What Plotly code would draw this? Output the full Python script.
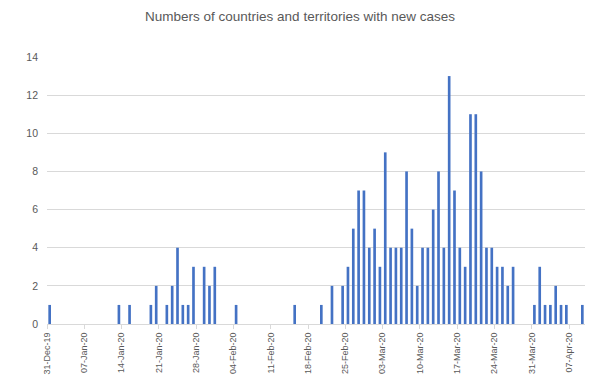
import plotly.graph_objects as go

title = "Numbers of countries and territories with new cases"

dates = [
    "2019-12-31", "2020-01-13", "2020-01-15", "2020-01-19", "2020-01-20",
    "2020-01-22", "2020-01-23", "2020-01-24", "2020-01-25", "2020-01-26",
    "2020-01-27", "2020-01-29", "2020-01-30", "2020-01-31", "2020-02-04",
    "2020-02-15", "2020-02-20", "2020-02-22", "2020-02-24", "2020-02-25",
    "2020-02-26", "2020-02-27", "2020-02-28", "2020-02-29", "2020-03-01",
    "2020-03-02", "2020-03-03", "2020-03-04", "2020-03-05", "2020-03-06",
    "2020-03-07", "2020-03-08", "2020-03-09", "2020-03-10", "2020-03-11",
    "2020-03-12", "2020-03-13", "2020-03-14", "2020-03-15", "2020-03-16",
    "2020-03-17", "2020-03-18", "2020-03-19", "2020-03-20", "2020-03-21",
    "2020-03-22", "2020-03-23", "2020-03-24", "2020-03-25", "2020-03-26",
    "2020-03-27", "2020-03-31", "2020-04-01", "2020-04-02", "2020-04-03",
    "2020-04-04", "2020-04-05", "2020-04-06", "2020-04-09",
]
counts = [
    1, 1, 1, 1, 2,
    1, 2, 4, 1, 1,
    3, 3, 2, 3, 1,
    1, 1, 2, 2, 3,
    5, 7, 7, 4, 5,
    3, 9, 4, 4, 4,
    8, 5, 2, 4, 4,
    6, 8, 4, 13, 7,
    4, 3, 11, 11, 8,
    4, 4, 3, 3, 2,
    3, 1, 3, 1, 1,
    2, 1, 1, 1,
]

x_start = "2019-12-31"
x_end = "2020-04-10"
y_ticks = [0, 2, 4, 6, 8, 10, 12, 14]

DAY_MS = 86400000

fig = go.Figure(
    go.Bar(
        x=dates,
        y=counts,
        xperiod=DAY_MS,
        xperiodalignment="middle",
        width=DAY_MS * 0.5,
        marker=dict(color="#4472C4", line=dict(width=0)),
        hoverinfo="x+y",
    )
)

grey = "#595959"
fig.update_layout(
    width=600,
    height=389,
    margin=dict(l=47, r=15, t=57, b=65, autoexpand=False),
    paper_bgcolor="white",
    plot_bgcolor="white",
    showlegend=False,
    font=dict(family="Liberation Sans, Arial, sans-serif", color=grey),
    title=dict(
        text=title,
        x=0.5,
        xanchor="center",
        y=1 - 16 / 389,
        yanchor="middle",
        yref="container",
        font=dict(size=13.5, color=grey),
    ),
    xaxis=dict(
        type="date",
        range=[x_start, x_end],
        tick0=x_start,
        dtick=7 * DAY_MS,
        tickformat="%d-%b-%y",
        tickangle=-90,
        tickfont=dict(size=9, color=grey),
        ticks="outside",
        ticklen=4,
        tickcolor="#d9d9d9",
        showgrid=False,
        showline=True,
        linecolor="#d9d9d9",
        linewidth=1,
        zeroline=False,
        automargin=False,
    ),
    yaxis=dict(
        range=[0, 14],
        tickvals=y_ticks,
        tickfont=dict(size=10.5, color=grey),
        showgrid=True,
        gridcolor="#d9d9d9",
        gridwidth=1,
        zeroline=False,
        showline=False,
        ticks="",
        ticklabelstandoff=8,
        automargin=False,
    ),
)

fig.write_html(
    "out.html",
    config={"displayModeBar": False},
    post_script="document.body.style.margin='0';document.body.style.padding='0';",
)
